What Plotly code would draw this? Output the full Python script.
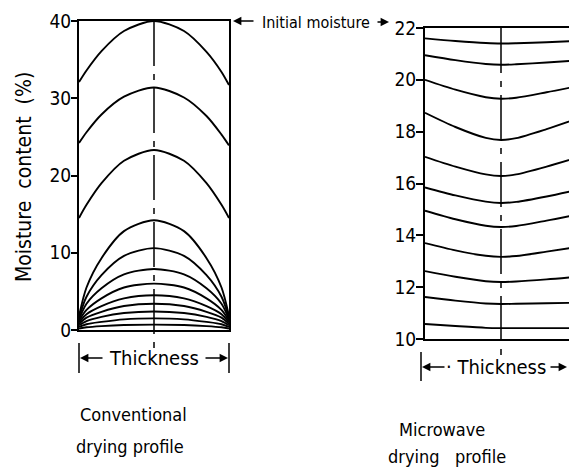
import plotly.graph_objects as go

W, H = 569, 468
FONT = "DejaVu Sans Condensed, DejaVu Sans, sans-serif"

# ---------------- data ----------------
# Conventional drying: moisture (%) across thickness (0 = one face, 1 = other face)
LEFT_X = [0, 0.05, 0.15, 0.3, 0.5, 0.7, 0.85, 0.95, 1]
LEFT_CURVES = [
    [32.1, 33.6, 36.1, 38.7, 40.0, 38.7, 36.0, 33.4, 31.7],
    [24.2, 25.6, 27.9, 30.2, 31.4, 30.1, 27.7, 25.3, 23.9],
    [14.5, 16.2, 19.0, 21.9, 23.3, 21.9, 19.0, 16.2, 14.5],
    [1.8, 5.5, 9.3, 12.8, 14.2, 12.8, 9.3, 5.5, 1.8],
    [1.6, 4.3, 7.1, 9.6, 10.6, 9.6, 7.1, 4.3, 1.6],
    [1.4, 3.4, 5.4, 7.2, 7.9, 7.2, 5.4, 3.4, 1.4],
    [1.2, 2.6, 4.1, 5.5, 6.0, 5.5, 4.1, 2.6, 1.2],
    [1.0, 2.05, 3.1, 4.1, 4.5, 4.1, 3.1, 2.05, 1.0],
    [0.8, 1.6, 2.35, 3.1, 3.4, 3.1, 2.35, 1.6, 0.8],
    [0.6, 1.15, 1.7, 2.2, 2.4, 2.2, 1.7, 1.15, 0.6],
    [0.4, 0.75, 1.05, 1.38, 1.5, 1.38, 1.05, 0.75, 0.4],
    [0.2, 0.35, 0.5, 0.64, 0.7, 0.64, 0.5, 0.35, 0.2],
]
LEFT_RANGE = [0, 40]
LEFT_TICKS = [0, 10, 20, 30, 40]

# Microwave drying
RIGHT_X = [0, 0.2, 0.4, 0.5, 0.6, 0.8, 1.0]
RIGHT_CURVES = [
    [21.6, 21.5, 21.42, 21.4, 21.41, 21.45, 21.5],
    [20.95, 20.76, 20.61, 20.58, 20.6, 20.67, 20.75],
    [20.0, 19.62, 19.33, 19.27, 19.31, 19.52, 19.75],
    [18.73, 18.18, 17.76, 17.68, 17.75, 18.1, 18.5],
    [17.03, 16.65, 16.35, 16.29, 16.35, 16.65, 17.0],
    [15.85, 15.54, 15.3, 15.25, 15.29, 15.5, 15.75],
    [14.95, 14.62, 14.37, 14.32, 14.36, 14.57, 14.8],
    [13.7, 13.42, 13.21, 13.17, 13.2, 13.37, 13.55],
    [12.62, 12.4, 12.23, 12.2, 12.22, 12.3, 12.4],
    [11.62, 11.48, 11.37, 11.35, 11.36, 11.38, 11.4],
    [10.58, 10.5, 10.43, 10.42, 10.42, 10.42, 10.42],
]
RIGHT_RANGE = [10, 22]
RIGHT_TICKS = [10, 12, 14, 16, 18, 20, 22]

# ---------------- layout geometry ----------------
def px(x):
    return x / W

def py(y):
    return 1 - y / H

L_DOM_X = [px(79), px(229)]
L_DOM_Y = [py(330), py(21)]
R_DOM_X = [px(425), 1.0]
R_DOM_Y = [py(339), py(28)]
L_XR = [0, 1]
R_XR = [0, 144 / 152]

def to_paper(v, dom, rng):
    return dom[0] + (v - rng[0]) / (rng[1] - rng[0]) * (dom[1] - dom[0])

fig = go.Figure()

line_style = dict(color="black", width=1.9, shape="spline", smoothing=0.8)
for c in LEFT_CURVES:
    fig.add_trace(go.Scatter(x=LEFT_X, y=c, mode="lines", line=line_style,
                             xaxis="x", yaxis="y", showlegend=False, hoverinfo="skip"))
for c in RIGHT_CURVES:
    fig.add_trace(go.Scatter(x=RIGHT_X, y=c, mode="lines", line=line_style,
                             xaxis="x2", yaxis="y2", showlegend=False, hoverinfo="skip"))

axis_common = dict(showgrid=False, zeroline=False, showline=True, linecolor="black",
                   linewidth=2, automargin=False)

fig.update_layout(
    width=W, height=H,
    margin=dict(l=0, r=0, t=0, b=0, pad=0, autoexpand=False),
    paper_bgcolor="white", plot_bgcolor="white",
    font=dict(family=FONT, color="black"),
    xaxis=dict(domain=L_DOM_X, range=L_XR, anchor="y", mirror=True,
               showticklabels=False, ticks="", **axis_common),
    yaxis=dict(domain=L_DOM_Y, range=LEFT_RANGE, anchor="x", mirror=True,
               tickvals=LEFT_TICKS, ticks="outside", ticklen=6, tickwidth=1.5,
               ticklabelstandoff=-4,
               tickcolor="black", tickfont=dict(size=19, family=FONT), **axis_common),
    xaxis2=dict(domain=R_DOM_X, range=R_XR, anchor="y2", mirror=True,
                showticklabels=False, ticks="", **axis_common),
    yaxis2=dict(domain=R_DOM_Y, range=RIGHT_RANGE, anchor="x2",
                tickvals=RIGHT_TICKS, ticks="outside", ticklen=7, tickwidth=1.5,
                ticklabelstandoff=-4,
                tickcolor="black", tickfont=dict(size=19, family=FONT), **axis_common),
)

shapes = []
dash = "45px,8px,6px,8px"
# centre lines
lx = to_paper(0.5, L_DOM_X, L_XR)
shapes.append(dict(type="line", xref="paper", yref="paper", x0=lx, x1=lx,
                   y0=L_DOM_Y[1], y1=py(348), line=dict(color="black", width=1.5, dash=dash)))
rx = to_paper(0.5, R_DOM_X, R_XR)
shapes.append(dict(type="line", xref="paper", yref="paper", x0=rx, x1=rx,
                   y0=R_DOM_Y[1], y1=py(356), line=dict(color="black", width=1.5, dash=dash)))
# thickness bars
for xb in (L_DOM_X[0], L_DOM_X[1]):
    shapes.append(dict(type="line", xref="paper", yref="paper", x0=xb, x1=xb,
                       y0=py(343), y1=py(373), line=dict(color="black", width=1.5)))
shapes.append(dict(type="line", xref="paper", yref="paper", x0=px(421), x1=px(421),
                   y0=py(352), y1=py(381), line=dict(color="black", width=1.5)))
fig.update_layout(shapes=shapes)

ann = []
def text(t, x, y, size, **kw):
    ann.append(dict(text=t, x=px(x), y=py(y), xref="paper", yref="paper",
                    showarrow=False, font=dict(size=size, family=FONT, color="black"),
                    xanchor="center", yanchor="middle", **kw))

def arrow(xh, yh, dx):
    ann.append(dict(text="", x=px(xh), y=py(yh), xref="paper", yref="paper",
                    showarrow=True, ax=dx, ay=0, arrowhead=2, arrowsize=1.2,
                    arrowwidth=1.4, arrowcolor="black"))

text("Moisture  content  (%)", 24, 177, 21, textangle=-90)
text("Thickness", 154, 358, 20)
arrow(80, 358, 24)
arrow(228, 358, -24)
text("· Thickness", 496, 367, 20)
arrow(422, 367, 24)
arrow(567, 367, -18)
text("Initial moisture", 316, 22, 16)
arrow(233, 21, 22)
arrow(389, 22, -13)
text("Conventional", 133, 414, 18)
text("drying profile", 130, 446, 18)
text("Microwave", 442, 429, 18)
text("drying   profile", 447, 456, 18)
fig.update_layout(annotations=ann)

fig.write_html("out.html", config={"displayModeBar": False})
